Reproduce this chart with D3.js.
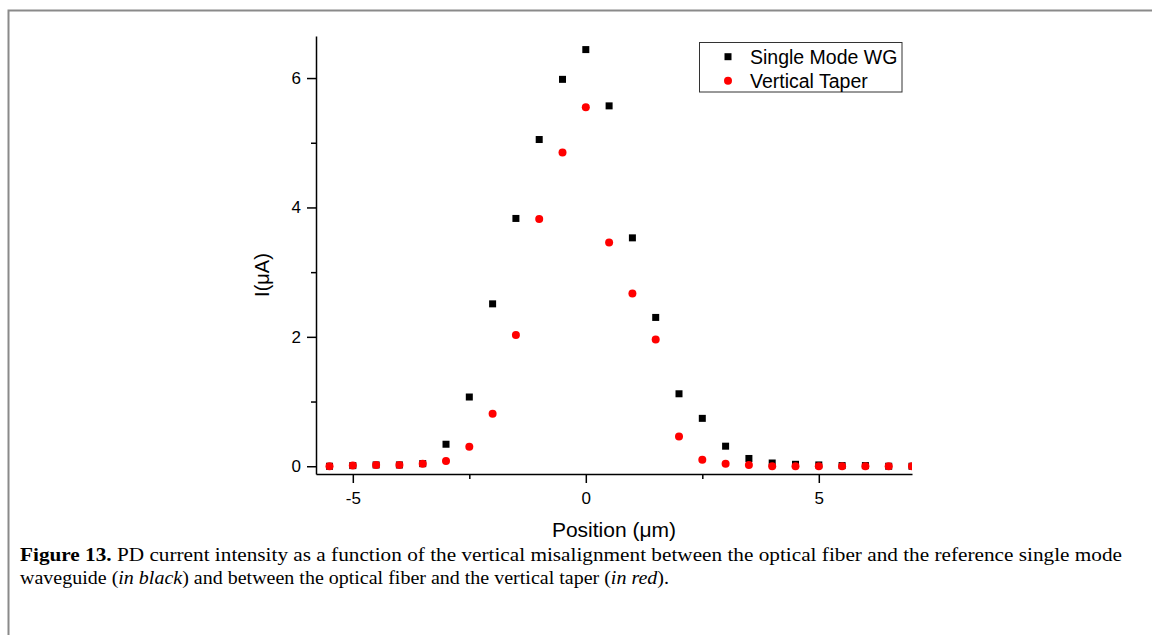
<!DOCTYPE html>
<html>
<head>
<meta charset="utf-8">
<script src="https://cdn.jsdelivr.net/npm/d3@7"></script>
<style>
  body { margin: 0; background: #fff; }
  svg { display: block; }
  .axis path, .axis line { stroke: #000; stroke-width: 1.5; }
  .axis text { font-family: "Liberation Sans", Arial, sans-serif; font-size: 17px; fill: #000; }
</style>
</head>
<body>
<svg id="svg"></svg>
<script>
// position (um)
var positions = [-5.5, -5, -4.5, -4, -3.5, -3, -2.5, -2, -1.5, -1, -0.5, 0,
                 0.5, 1, 1.5, 2, 2.5, 3, 3.5, 4, 4.5, 5, 5.5, 6, 6.5, 7];
// current I(uA), single mode waveguide (black)
var singleModeWG = [0.0, 0.01, 0.02, 0.02, 0.04, 0.34, 1.07, 2.51, 3.83, 5.05, 5.98, 6.44,
                    5.57, 3.53, 2.30, 1.12, 0.74, 0.31, 0.12, 0.05, 0.03, 0.02, 0.01, 0.01, 0.0, 0.0];
// current I(uA), vertical taper (red)
var verticalTaper = [0.0, 0.01, 0.02, 0.02, 0.04, 0.08, 0.30, 0.81, 2.03, 3.82, 4.85, 5.55,
                     3.46, 2.67, 1.96, 0.46, 0.10, 0.04, 0.02, 0.0, 0.0, 0.0, 0.0, 0.0, 0.0, 0.0];

var seriesNames = ["Single Mode WG", "Vertical Taper"];
var xMajor = [-5, 0, 5], xMinor = [-2.5, 2.5];
var yMajor = [0, 2, 4, 6], yMinor = [1, 3, 5];

var W = 1152, H = 635;
svg = d3.select("#svg").attr("width", W).attr("height", H);

// frame of the figure
svg.append("path")
   .attr("d", "M8.5 " + H + " V10.5 H" + W)
   .attr("fill", "none").attr("stroke", "#8a8a8a").attr("stroke-width", 2);

var L = 316, R = 912, T = 36, B = 474;

x = d3.scaleLinear().domain([-5.79, 7.0]).range([L, R]);
y = d3.scaleLinear().domain([-0.12, 6.65]).range([B, T]);

// axes
svg.append("g").attr("class", "axis").attr("transform", "translate(0," + B + ")")
   .call(d3.axisBottom(x).tickValues(xMajor).tickSize(9).tickSizeOuter(0).tickPadding(9)
          .tickFormat(function(d){ return d < 0 ? "-" + Math.abs(d) : d; }));
svg.append("g").attr("class", "axis").attr("transform", "translate(0," + B + ")")
   .call(d3.axisBottom(x).tickValues(xMinor).tickSize(5).tickFormat(""))
   .select(".domain").remove();

svg.append("g").attr("class", "axis").attr("transform", "translate(" + L + ",0)")
   .call(d3.axisLeft(y).tickValues(yMajor).tickSize(9).tickSizeOuter(0).tickPadding(6)
          .tickFormat(d3.format("d")));
svg.append("g").attr("class", "axis").attr("transform", "translate(" + L + ",0)")
   .call(d3.axisLeft(y).tickValues(yMinor).tickSize(5).tickFormat(""))
   .select(".domain").remove();

// axis titles
svg.append("text")
   .attr("x", 614).attr("y", 537)
   .attr("text-anchor", "middle")
   .style("font-family", "Liberation Sans, Arial, sans-serif").style("font-size", "21px")
   .text("Position (\u03bcm)");

svg.append("text")
   .attr("transform", "translate(269 275) rotate(-90)")
   .attr("text-anchor", "middle")
   .style("font-family", "Liberation Sans, Arial, sans-serif").style("font-size", "20px")
   .text("I(\u03bcA)");

// points, clipped to the plot area
svg.append("clipPath").attr("id", "plotclip")
   .append("rect").attr("x", L).attr("y", T).attr("width", R - L).attr("height", B - T + 2);

var pts = svg.append("g").attr("clip-path", "url(#plotclip)");
var sq = 7;

pts.selectAll(".sq").data(singleModeWG).enter()
   .append("rect").attr("class", "sq")
   .attr("x", function(d, i){ return x(positions[i]) - sq / 2; })
   .attr("y", function(d){ return y(d) - sq / 2; })
   .attr("width", sq).attr("height", sq)
   .attr("fill", "#000");

pts.selectAll(".dot").data(verticalTaper).enter()
   .append("circle").attr("class", "dot")
   .attr("cx", function(d, i){ return x(positions[i]); })
   .attr("cy", function(d){ return y(d); })
   .attr("r", 4)
   .attr("fill", "#ff0000");

// legend
var lg = svg.append("g");
lg.append("rect").attr("x", 699.5).attr("y", 42.5).attr("width", 202.5).attr("height", 49.5)
  .attr("fill", "#fff").attr("stroke", "#333").attr("stroke-width", 1);
lg.append("rect").attr("x", 728 - 3.5).attr("y", 56.7 - 3.5).attr("width", 7).attr("height", 7).attr("fill", "#000");
lg.append("circle").attr("cx", 728).attr("cy", 80.7).attr("r", 4).attr("fill", "#ff0000");
lg.selectAll(".lgtext").data(seriesNames).enter()
  .append("text").attr("class", "lgtext")
  .attr("x", 750).attr("y", function(d, i){ return 63.5 + i * 24; })
  .style("font-family", "Liberation Sans, Arial, sans-serif").style("font-size", "19.5px")
  .text(function(d){ return d; });

// caption
var capFont = "Liberation Serif, 'Times New Roman', serif";
var c1 = svg.append("text").attr("x", 20).attr("y", 561)
   .style("font-family", capFont).style("font-size", "18.5px");
c1.append("tspan").style("font-weight", "bold").text("Figure 13.");
c1.append("tspan").text(" PD current intensity as a function of the vertical misalignment between the optical fiber and the reference single mode");

var c2 = svg.append("text").attr("x", 20).attr("y", 584)
   .style("font-family", capFont).style("font-size", "18.5px");
c2.append("tspan").text("waveguide (");
c2.append("tspan").style("font-style", "italic").text("in black");
c2.append("tspan").text(") and between the optical fiber and the vertical taper (");
c2.append("tspan").style("font-style", "italic").text("in red");
c2.append("tspan").text(").");

// squeeze the serif lines to the width they take in the figure
[[c1, 1102], [c2, 649]].forEach(function(p){
  p[0].attr("textLength", p[1]).attr("lengthAdjust", "spacingAndGlyphs");
});
</script>
</body>
</html>
